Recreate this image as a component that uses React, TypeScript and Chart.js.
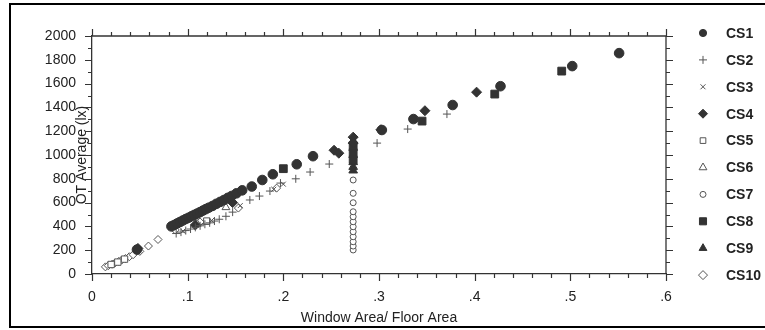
import React, { useEffect, useRef } from "react";
import { Chart, registerables } from "chart.js";
import { drawPoint } from "chart.js/helpers";

Chart.register(...registerables);

// ---- data: [window area / floor area, OT average (lx)] ----
const CS1: number[][] = [
  [0.047, 205], [0.083, 400], [0.086, 412], [0.089, 425], [0.092, 437], [0.095, 450],
  [0.098, 462], [0.101, 473], [0.104, 485], [0.107, 497], [0.110, 508], [0.113, 520],
  [0.116, 533], [0.119, 545], [0.122, 557], [0.126, 572], [0.130, 590], [0.134, 606],
  [0.138, 622], [0.142, 640], [0.146, 656], [0.151, 678], [0.157, 703], [0.167, 735],
  [0.178, 790], [0.189, 838], [0.214, 922], [0.231, 990], [0.303, 1210], [0.336, 1302],
  [0.377, 1420], [0.427, 1578], [0.502, 1747], [0.551, 1856],
];
const CS2: number[][] = [
  [0.088, 340], [0.093, 352], [0.098, 365], [0.103, 378], [0.108, 392], [0.113, 405],
  [0.118, 418], [0.123, 430], [0.128, 445], [0.133, 460], [0.140, 485], [0.147, 520],
  [0.165, 622], [0.175, 655], [0.186, 697], [0.197, 764], [0.213, 800], [0.228, 857],
  [0.248, 924], [0.298, 1100], [0.330, 1218], [0.371, 1344],
];
const CS3: number[][] = [
  [0.095, 360], [0.125, 450], [0.155, 575], [0.190, 712], [0.200, 755],
];
const CS4: number[][] = [
  [0.048, 215], [0.108, 412], [0.147, 600], [0.253, 1040], [0.258, 1015],
  [0.273, 1150], [0.273, 1100], [0.302, 1212], [0.348, 1372], [0.402, 1528],
];
const CS5: number[][] = [
  [0.020, 80], [0.027, 100], [0.034, 125], [0.120, 445],
];
const CS6: number[][] = [
  [0.110, 420], [0.140, 560],
];
const CS7: number[][] = [
  [0.273, 202], [0.273, 235], [0.273, 271], [0.273, 313], [0.273, 355], [0.273, 397],
  [0.273, 439], [0.273, 481], [0.273, 523], [0.273, 599], [0.273, 678], [0.273, 790],
];
const CS8: number[][] = [
  [0.200, 885], [0.273, 960], [0.273, 1020], [0.273, 1080], [0.345, 1285],
  [0.421, 1512], [0.491, 1705],
];
const CS9: number[][] = [
  [0.273, 870], [0.273, 900], [0.273, 940], [0.273, 1000], [0.273, 1060], [0.273, 1120],
];
const CS10: number[][] = [
  [0.014, 60], [0.017, 70], [0.021, 82], [0.024, 93], [0.028, 106], [0.031, 117],
  [0.035, 130], [0.039, 145], [0.043, 162], [0.050, 190], [0.059, 235], [0.069, 290],
  [0.087, 370], [0.113, 437], [0.153, 554], [0.193, 722],
];

const SERIES_NAMES = ["CS1", "CS2", "CS3", "CS4", "CS5", "CS6", "CS7", "CS8", "CS9", "CS10"];
const SERIES_DATA = [CS1, CS2, CS3, CS4, CS5, CS6, CS7, CS8, CS9, CS10];

const X_MIN = 0, X_MAX = 0.6, X_MAJOR = 0.1, X_MINOR = 0.02;
const Y_MIN = 0, Y_MAX = 2000, Y_MAJOR = 200, Y_MINOR = 100;

const X_TITLE = "Window Area/ Floor Area";
const Y_TITLE = "OT Average (lx)";

const INK = "#333";
const FONT = "'Liberation Sans', Arial, sans-serif";

// style per series: [pointStyle, radius, filled, legendRadius]
const STYLES: [string, number, boolean, number][] = [
  ["circle", 4.8, true, 3.6],
  ["cross", 4, false, 4],
  ["crossRot", 3.5, false, 3.5],
  ["rectRot", 5, true, 4.5],
  ["rect", 4.5, false, 4],
  ["triangle", 4.5, false, 4.5],
  ["circle", 3, false, 3],
  ["rect", 5.5, true, 5],
  ["triangle", 5, true, 4.5],
  ["rectRot", 4, false, 4.5],
];

const framePlugin = {
  id: "frameAndTicks",
  beforeDraw(chart: any) {
    const { ctx, width, height } = chart;
    ctx.save();
    ctx.fillStyle = "#fff";
    ctx.fillRect(0, 0, width, height);
    ctx.restore();
  },
  afterDraw(chart: any) {
    const { ctx, chartArea } = chart;
    const { left, right, top, bottom } = chartArea;
    const xs = chart.scales.x;
    const ys = chart.scales.y;
    ctx.save();
    ctx.strokeStyle = INK;
    ctx.lineWidth = 1.3;
    ctx.beginPath();
    ctx.moveTo(left, top);
    ctx.lineTo(right, top);
    ctx.lineTo(right, bottom);
    ctx.stroke();

    ctx.lineWidth = 1.2;
    ctx.beginPath();
    const nx = Math.round((X_MAX - X_MIN) / X_MINOR);
    for (let i = 0; i <= nx; i++) {
      const v = X_MIN + i * X_MINOR;
      const px = Math.round(xs.getPixelForValue(v)) + 0.5;
      const major = i % Math.round(X_MAJOR / X_MINOR) === 0;
      const len = major ? 7 : 4;
      ctx.moveTo(px, bottom);
      ctx.lineTo(px, bottom + len);
      ctx.moveTo(px, top);
      ctx.lineTo(px, top - len);
    }
    const ny = Math.round((Y_MAX - Y_MIN) / Y_MINOR);
    for (let i = 0; i <= ny; i++) {
      const v = Y_MIN + i * Y_MINOR;
      const py = Math.round(ys.getPixelForValue(v)) + 0.5;
      const major = i % Math.round(Y_MAJOR / Y_MINOR) === 0;
      const len = major ? 7 : 4;
      ctx.moveTo(left, py);
      ctx.lineTo(left - len, py);
      ctx.moveTo(right, py);
      ctx.lineTo(right + len, py);
    }
    ctx.stroke();

    // legend
    const lx = 703, tx = 726, ly0 = 33, dy = 26.9;
    ctx.font = `bold 14px ${FONT}`;
    ctx.textBaseline = "middle";
    ctx.textAlign = "left";
    chart.data.datasets.forEach((ds: any, i: number) => {
      const st = STYLES[i];
      const y = ly0 + i * dy;
      ctx.fillStyle = ds.pointBackgroundColor;
      ctx.strokeStyle = ds.pointBorderColor;
      ctx.lineWidth = 1;
      drawPoint(ctx, { pointStyle: st[0], radius: st[3], rotation: 0, borderWidth: 1 } as any, lx, y);
      ctx.fillStyle = "#222";
      ctx.fillText(ds.label, tx, y + 1);
    });

    // outer frame
    ctx.strokeStyle = "#000";
    ctx.lineWidth = 2;
    ctx.strokeRect(10, 4, 770, 323);
    ctx.restore();
  },
};

export default function App() {
  const ref = useRef<HTMLCanvasElement | null>(null);
  useEffect(() => {
    document.body.style.margin = "0";
    const canvas = ref.current!;
    const datasets = SERIES_DATA.map((d, i) => {
      const st = STYLES[i];
      return {
        label: SERIES_NAMES[i],
        data: d.map(([x, y]) => ({ x, y })),
        pointStyle: st[0],
        pointRadius: st[1],
        pointHoverRadius: st[1],
        pointBackgroundColor: st[2] ? INK : "#fff",
        pointBorderColor: st[2] ? INK : "#555",
        pointBorderWidth: 1,
        showLine: false,
      };
    });
    const chart = new Chart(canvas, {
      type: "scatter",
      data: { datasets } as any,
      options: {
        animation: false,
        responsive: false,
        maintainAspectRatio: false,
        layout: { padding: { left: 20, right: 99, top: 36, bottom: 3 } },
        plugins: {
          legend: { display: false },
          tooltip: { enabled: false },
        },
        scales: {
          x: {
            type: "linear",
            min: X_MIN,
            max: X_MAX,
            afterFit: (s: any) => { s.height = 53; },
            grid: { display: false, tickLength: 8 },
            border: { display: true, color: INK, width: 1.3 },
            ticks: {
              stepSize: X_MAJOR,
              padding: 7,
              color: "#222",
              font: { family: FONT, size: 14 },
              callback: (v: any) => (Math.abs(v) < 1e-9 ? "0" : "." + Math.round(v * 10)),
            },
            title: {
              display: true,
              text: X_TITLE,
              color: "#222",
              font: { family: FONT, size: 14 },
              padding: { top: 0, bottom: 0 },
            },
          },
          y: {
            type: "linear",
            min: Y_MIN,
            max: Y_MAX,
            afterFit: (s: any) => { s.width = 72; },
            grid: { display: false, tickLength: 8 },
            border: { display: true, color: INK, width: 1.3 },
            ticks: {
              stepSize: Y_MAJOR,
              padding: 8,
              color: "#222",
              font: { family: FONT, size: 14 },
              callback: (v: any) => String(Math.round(v)),
            },
            title: {
              display: true,
              text: Y_TITLE,
              color: "#222",
              font: { family: FONT, size: 14 },
              padding: { top: 54, bottom: 0 },
            },
          },
        },
      } as any,
      plugins: [framePlugin],
    });
    return () => chart.destroy();
  }, []);
  return (
    <div style={{ width: 765, height: 330 }}>
      <canvas ref={ref} width={765} height={330} style={{ display: "block" }} />
    </div>
  );
}
